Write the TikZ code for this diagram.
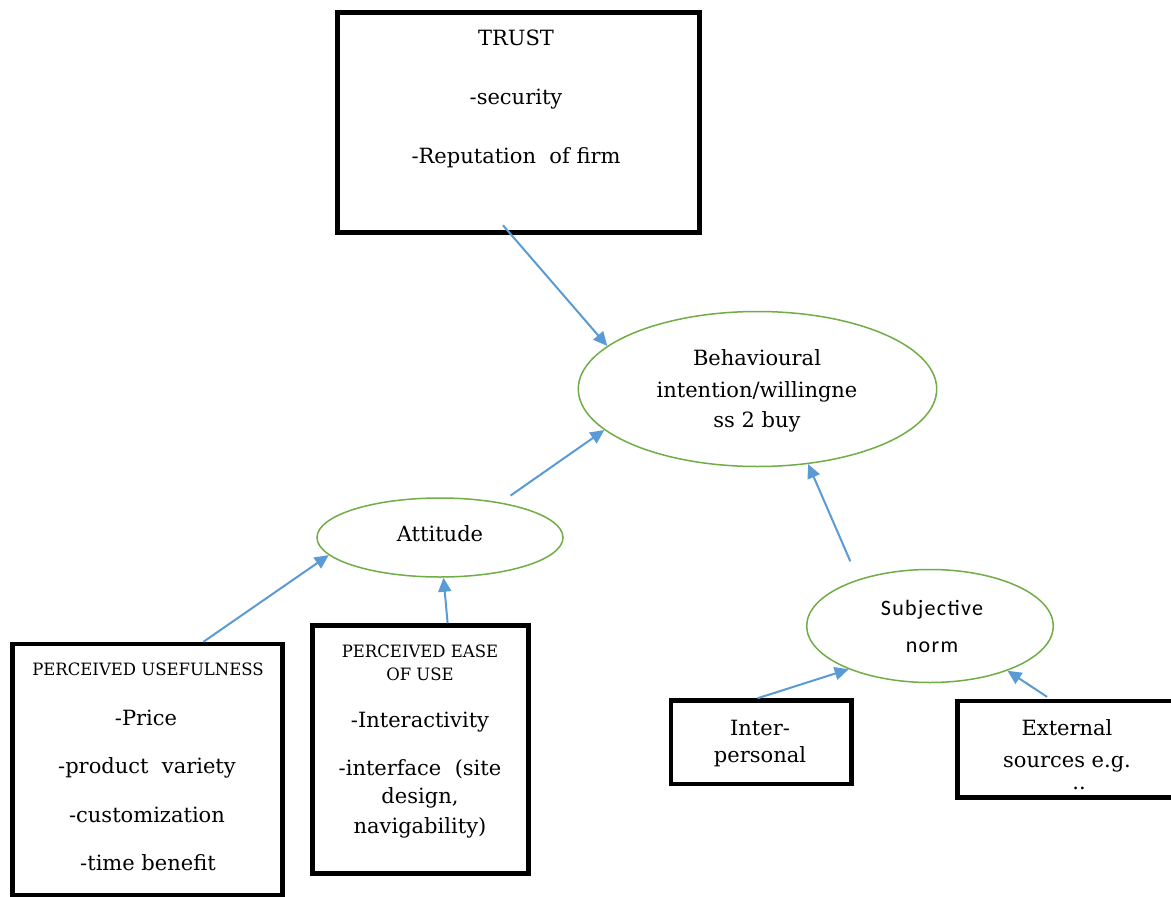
\documentclass[tikz,border=0pt]{standalone}
\usepackage{fontspec}
\setmainfont{DejaVu Serif}
\newfontfamily\capsfont{DejaVu Serif}[FakeStretch=0.97]
\newfontfamily\snfont{Carlito}[LetterSpace=6]
\usetikzlibrary{arrows.meta,calc,shapes.geometric}

\definecolor{arrowblue}{HTML}{5B9BD5}
\definecolor{ringgreen}{HTML}{70AD47}

\begin{document}
\begin{tikzpicture}[x=1pt,y=-1pt,
  box/.style={draw=black,line width=4.5pt,rectangle,inner sep=0pt},
  ring/.style={draw=ringgreen,line width=1.5pt,ellipse,inner sep=0pt},
  arr/.style={draw=arrowblue,line width=2pt,-{Triangle[length=14pt,width=13pt]}},
  txt/.style={anchor=base,inner sep=0pt,font=\fontsize{21}{25}\selectfont},
  hdr/.style={anchor=base,inner sep=0pt,font=\capsfont\fontsize{17}{20}\selectfont},
  sntxt/.style={anchor=base,inner sep=0pt,font=\snfont\fontsize{22}{26}\selectfont}]

\useasboundingbox[fill=white] (0,0) rectangle (1171,897);

% boxes
\node[box,minimum width=362pt,minimum height=220pt] (trust) at (518.5,122.5) {};
\node[box,minimum width=270pt,minimum height=251pt] (pu) at (147.5,769.5) {};
\node[box,minimum width=216pt,minimum height=248pt] (peou) at (420.5,749.5) {};
\node[box,minimum width=180.5pt,minimum height=83.5pt] (inter) at (761.25,742.25) {};
\node[box,minimum width=227.5pt,minimum height=96.7pt] (ext) at (1071.25,749.15) {};

% ellipses
\node[ring,minimum width=358.4pt,minimum height=155pt] (beh) at (757.5,389) {};
\node[ring,minimum width=246pt,minimum height=79pt] (att) at (440,537.5) {};
\node[ring,minimum width=246.6pt,minimum height=113pt] (sn) at (930,626) {};

% texts
\node[txt] (trusthead) at (516,45) {TRUST};
\node[txt] (trustsec) at (516,104) {-security};
\node[txt] (trustrep) at (516,163) {-Reputation\ \ of firm};

\node[txt] (beh1) at (757,365) {Behavioural};
\node[txt] (beh2) at (757,397) {intention/willingne};
\node[txt] (beh3) at (757,427) {ss 2 buy};

\node[txt] (atttxt) at (440,541) {Attitude};

\node[sntxt] (sn1) at (932,615) {Subjective};
\node[sntxt] (sn2) at (932,652) {norm};

\node[hdr] (puhead) at (148,675) {PERCEIVED USEFULNESS};
\node[txt] (pu1) at (146,725) {-Price};
\node[txt] (pu2) at (147,773) {-product\ \ variety};
\node[txt] (pu3) at (147,822) {-customization};
\node[txt] (pu4) at (148,870) {-time benefit};

\node[hdr] (peouhead1) at (420,657) {PERCEIVED EASE};
\node[hdr] (peouhead2) at (420,680) {OF USE};
\node[txt] (peou1) at (420,727) {-Interactivity};
\node[txt] (peou2) at (420,775) {-interface\ \ (site};
\node[txt] (peou3) at (420,803) {design,};
\node[txt] (peou4) at (420,833) {navigability)};

\node[txt] (inter1) at (760,735) {Inter-};
\node[txt] (inter2) at (760,762) {personal};

\node[txt] (ext1) at (1067,735) {External};
\node[txt] (ext2) at (1067,767) {sources e.g.};
\node[txt] (ext3) at (1079,789) {..};

% connectors
\draw[arr] ($(trust.south)+(-15.5,-9.5)$) -- (beh.164);
\draw[arr,shorten <=12pt] (att.30) -- (beh.195);
\draw[arr,shorten <=19.6pt] (sn.147.5) -- (beh.304);
\draw[arr] ($(pu.north west)!0.704!(pu.north east)$) -- (att.189);
\draw[arr] ($(peou.north west)!0.623!(peou.north east)$) -- (att.275);
\draw[arr] ($(inter.north west)!0.48!(inter.north east)$) -- (sn.208);
\draw[arr,shorten <=3pt] ($(ext.north west)!0.407!(ext.north east)$) -- (sn.330);

\end{tikzpicture}
\end{document}
